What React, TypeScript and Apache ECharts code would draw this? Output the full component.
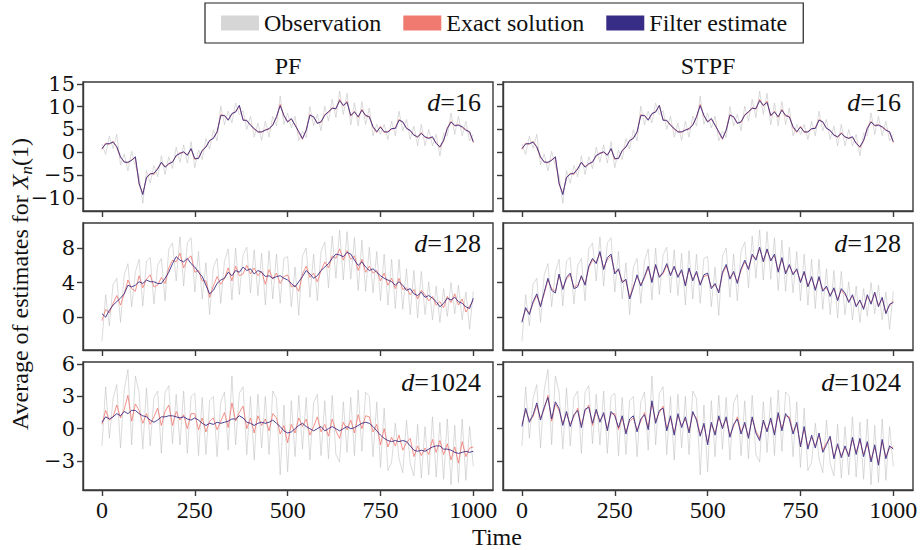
import React, { useEffect, useRef } from "react";
import * as echarts from "echarts";

// time steps (every 10th step of 0..1000)
const times: number[] = Array.from({ length: 101 }, (_, i) => i * 10);
const xTicks = [0, 250, 500, 750, 1000];

// ---- d = 16 ----
const obs16 = [1.8,-0.5,3.5,0.8,3.9,-2.8,-0.4,-4.1,0.2,-3.0,
  -5.2,-11.2,-4.0,-6.8,-2.9,-5.4,-0.8,-4.9,-1.0,-3.6,
  1.1,-2.2,1.6,-2.4,2.3,-3.4,0.5,-1.6,3.0,0.7,
  4.9,2.5,10.1,6.0,9.0,6.4,10.8,8.2,9.1,5.0,
  7.9,3.3,6.4,2.6,6.8,3.3,7.9,5.8,12.3,6.1,
  8.6,5.3,7.9,2.5,4.6,3.2,10.0,5.8,8.3,4.7,
  10.1,6.9,11.6,7.6,13.4,8.3,12.9,6.0,10.8,5.8,
  11.1,6.1,9.7,3.6,6.1,3.9,6.1,2.8,6.8,3.6,
  9.0,4.7,7.2,2.8,5.7,1.4,6.1,1.4,5.0,1.4,
  3.9,-0.8,4.2,3.6,8.6,3.9,7.9,3.6,6.8,2.5,
  3.9];
const exact16 = [0.6,2.0,1.7,2.4,1.0,-1.2,-2.0,-2.4,-1.6,-1.2,
  -7.1,-9.0,-5.7,-4.6,-4.9,-3.5,-2.4,-3.1,-2.7,-2.0,
  -0.9,-0.1,-0.1,-0.5,0.6,-1.6,-1.2,0.2,1.3,2.4,
  3.2,4.3,8.3,7.9,7.2,8.3,9.0,10.1,7.2,6.8,
  6.1,5.0,4.6,4.3,5.0,5.0,6.1,7.6,10.5,7.9,
  6.8,7.2,6.1,4.3,2.8,5.0,8.3,7.6,6.5,6.5,
  8.3,8.7,9.8,9.4,11.6,10.1,11.2,7.9,9.0,7.6,
  9.4,7.9,7.9,5.4,4.3,5.7,4.3,4.6,5.0,5.4,
  7.2,6.5,5.4,4.6,3.9,3.2,4.3,3.2,3.2,3.2,
  2.1,1.0,2.4,5.4,6.8,5.7,6.1,5.4,5.0,4.3,
  2.1];
const pf16 = [0.8,1.8,1.9,2.2,1.2,-1.0,-2.2,-2.2,-1.8,-1.0,
  -6.8,-9.3,-5.5,-4.8,-4.6,-3.7,-2.2,-3.3,-2.5,-2.2,
  -0.7,-0.3,0.1,-0.7,0.8,-1.4,-1.4,0.4,1.1,2.6,
  3.0,4.5,8.0,8.1,7.0,8.5,8.8,10.3,7.0,7.0,
  5.9,5.2,4.4,4.5,4.8,5.2,5.9,7.8,10.2,8.1,
  6.6,7.4,5.9,4.5,3.0,4.8,8.1,7.8,6.3,6.7,
  8.1,8.9,9.6,9.6,11.3,10.3,10.9,8.1,8.8,7.8,
  9.2,8.1,7.7,5.6,4.5,5.5,4.5,4.4,5.2,5.2,
  7.0,6.7,5.2,4.8,3.7,3.4,4.1,3.4,3.0,3.4,
  1.9,1.2,2.6,5.2,6.6,5.9,5.9,5.6,4.8,4.5,
  2.3];
const stpf16 = pf16;

// ---- d = 128 ----
const obs128 = [-2.8,2.6,-1.0,3.8,4.5,-0.6,4.9,6.2,1.2,5.2,
  6.7,1.3,6.5,6.9,1.5,6.0,6.8,1.9,7.9,8.6,
  4.2,9.3,3.6,8.6,9.2,2.9,7.6,2.1,6.3,0.3,
  5.8,6.8,1.6,6.5,7.9,2.0,8.0,2.6,7.2,8.1,
  2.8,7.8,2.5,7.4,1.4,7.7,2.1,7.3,1.6,6.8,
  7.0,1.2,5.8,0.2,7.1,8.0,2.3,7.3,1.9,7.6,
  8.7,3.4,9.4,4.5,10.1,4.3,9.9,4.4,9.2,3.1,
  8.9,3.0,8.1,2.8,7.6,1.9,7.3,1.4,6.7,1.0,
  6.7,0.9,5.6,0.3,5.4,-0.1,5.3,0.3,4.1,-0.3,
  3.6,-0.6,3.3,0.1,4.0,0.4,3.7,-0.3,2.9,-1.4,
  3.0];
const exact128 = [-0.4,0.9,0.5,1.6,2.5,1.4,2.7,4.3,3.3,3.0,
  4.8,3.4,4.4,4.9,3.5,3.7,4.6,3.9,5.7,6.6,
  6.4,7.4,5.7,6.7,7.1,5.2,5.4,4.2,4.2,2.3,
  3.6,4.7,3.8,4.5,5.7,4.2,5.9,4.8,5.0,6.0,
  5.0,5.7,4.8,5.3,3.8,5.5,4.4,5.1,3.9,4.7,
  4.9,3.5,3.7,3.0,5.0,5.9,4.6,5.1,4.1,5.4,
  6.4,5.7,7.1,6.8,7.9,6.6,7.7,6.7,7.1,5.4,
  6.7,5.2,5.9,5.1,5.4,4.2,5.1,3.7,4.5,3.3,
  4.5,3.2,3.4,2.6,3.2,2.1,3.1,2.6,1.9,2.4,
  1.4,1.8,1.1,2.4,1.7,2.7,1.4,2.1,0.6,1.3,
  1.9];
const pf128 = [0.4,0.0,0.8,1.4,1.8,2.2,2.7,3.7,3.5,3.7,
  4.1,3.9,4.3,4.1,4.1,3.9,3.9,4.5,5.2,6.2,
  7.0,6.6,6.4,6.8,6.2,5.8,5.2,4.7,3.7,2.7,
  3.1,3.9,4.3,4.5,5.2,4.8,5.4,5.2,5.8,5.4,
  5.6,5.0,5.4,5.2,4.7,4.8,4.5,4.7,4.8,4.5,
  4.3,3.9,3.5,4.1,4.7,5.4,5.0,4.5,4.8,5.4,
  5.8,6.2,6.8,7.3,7.2,7.0,7.5,7.3,6.6,6.0,
  6.4,5.8,5.4,5.6,5.2,4.8,4.5,4.3,4.1,3.7,
  4.1,3.7,3.1,3.3,2.7,2.5,2.9,2.3,2.5,2.2,
  1.8,1.2,1.6,2.2,2.0,2.3,1.8,1.6,1.2,1.0,
  2.2];
const stpf128 = [-0.6,1.1,0.3,1.8,2.7,1.2,2.9,4.5,3.1,2.8,
  5.0,3.2,4.6,5.1,3.3,3.5,4.8,3.7,5.9,6.8,
  6.2,7.6,5.5,6.9,7.3,5.0,5.6,4.0,4.4,2.1,
  3.4,4.9,3.6,4.7,5.9,4.0,6.1,4.6,5.2,6.2,
  4.8,5.9,4.6,5.5,3.6,5.7,4.2,5.3,3.7,4.9,
  5.1,3.3,3.9,2.8,5.2,6.1,4.4,5.3,3.9,5.6,
  6.6,5.5,7.3,6.6,8.1,6.4,7.9,6.5,7.3,5.2,
  6.9,5.0,6.1,4.9,5.6,4.0,5.3,3.5,4.7,3.1,
  4.7,3.0,3.6,2.4,3.4,1.9,3.3,2.8,1.7,2.6,
  1.2,2.0,0.9,2.6,1.5,2.9,1.2,2.3,0.4,1.5,
  1.7];

// ---- d = 1024 ----
const obs1024 = [-1.6,3.9,-0.9,2.8,4.1,-1.8,3.6,5.5,-1.5,4.9,
  3.4,-1.9,3.8,-1.6,2.9,3.5,-2.3,3.4,4.0,-1.4,
  3.2,-1.5,3.5,-2.3,3.0,3.3,-2.5,2.9,-2.4,2.6,
  3.0,-2.6,2.5,3.4,-2.0,4.9,-1.5,3.3,3.9,-2.4,
  3.0,-2.9,3.2,-1.8,3.0,-2.4,3.5,2.8,-4.3,2.2,
  -4.0,2.6,-2.6,3.1,-1.9,2.9,-2.9,2.4,3.2,-2.5,
  2.6,-2.8,3.1,-2.4,-3.1,2.5,-2.2,2.9,-2.5,3.6,
  -2.1,3.4,3.0,-2.6,2.5,-3.6,1.9,-3.9,-3.1,0.5,
  -2.8,-4.1,0.8,-3.2,-4.4,0.4,-4.6,0.2,-4.3,1.1,
  -4.5,0.6,-4.7,0.9,-5.2,0.3,-5.0,0.9,-4.8,0.2,
  -3.5];
const exact1024 = [0.4,1.7,0.8,1.1,2.2,1.0,1.8,3.1,0.7,2.3,
  1.7,0.5,1.4,0.4,1.1,1.9,0.3,1.6,2.2,0.3,
  1.6,0.8,1.3,0.0,1.4,1.4,-0.1,1.0,-0.3,0.7,
  1.0,-0.1,0.7,1.5,0.1,2.4,0.7,1.5,2.1,0.0,
  1.0,-0.4,1.2,0.3,0.9,-0.2,1.4,1.0,-0.5,0.3,
  -1.3,0.4,-0.4,1.0,0.2,0.9,-0.6,0.2,1.1,-0.3,
  0.4,-0.7,0.9,-0.2,-0.9,0.6,-0.1,0.8,-0.4,1.3,
  0.0,1.2,1.1,-0.3,0.4,-1.5,0.0,-1.7,-0.8,-1.6,
  -0.6,-2.0,-1.3,-0.9,-2.6,-1.6,-2.5,-1.8,-2.4,-1.0,
  -2.2,-1.1,-2.4,-1.4,-2.9,-1.7,-3.2,-1.2,-2.6,-1.8,
  -1.7];
const pf1024 = [0.6,1.1,0.9,1.1,1.4,1.2,1.6,1.4,1.7,1.7,
  1.4,1.2,1.1,0.8,0.6,0.8,1.1,1.1,1.2,1.2,
  1.1,1.0,1.1,0.9,0.8,1.0,0.8,0.5,0.3,0.5,
  0.4,0.6,0.5,0.6,0.7,0.9,0.9,1.2,1.0,0.6,
  0.5,0.3,0.5,0.6,0.5,0.6,0.8,0.5,0.2,-0.2,
  -0.4,-0.3,0.0,0.3,0.5,0.2,0.0,-0.2,0.0,0.2,
  -0.2,0.0,0.2,0.0,-0.2,0.0,0.2,0.0,0.1,0.3,
  0.5,0.6,0.5,0.2,-0.2,-0.6,-0.9,-1.1,-1.2,-1.1,
  -1.2,-1.1,-1.2,-1.6,-2.0,-2.1,-2.0,-2.1,-1.9,-1.7,
  -1.6,-1.6,-1.9,-1.9,-2.0,-2.2,-2.3,-2.2,-2.1,-2.2,
  -2.1];
const stpf1024 = [0.2,1.9,0.6,1.3,2.4,0.8,2.0,2.9,0.9,2.5,
  1.9,0.3,1.6,0.2,1.3,1.7,0.1,1.8,2.0,0.5,
  1.8,0.6,1.5,-0.2,1.6,1.2,0.1,1.2,-0.5,0.9,
  1.2,-0.3,0.9,1.3,-0.1,2.6,0.5,1.7,1.9,-0.2,
  1.2,-0.6,1.4,0.1,1.1,-0.4,1.6,0.8,-0.7,0.5,
  -1.5,0.6,-0.6,1.2,0.0,1.1,-0.8,0.4,0.9,-0.5,
  0.6,-0.9,1.1,-0.4,-1.1,0.8,-0.3,1.0,-0.6,1.5,
  -0.2,1.4,0.9,-0.5,0.6,-1.7,0.2,-1.9,-0.6,-1.8,
  -0.4,-2.2,-1.5,-0.7,-2.8,-1.4,-2.7,-1.6,-2.6,-0.8,
  -2.4,-0.9,-2.6,-1.2,-3.1,-1.5,-3.4,-1.0,-2.8,-1.6,
  -1.9];

const dLabels = ["16", "128", "1024"];
const yTicks16 = [-10, -5, 0, 5, 10, 15];
const yTicks128 = [0, 4, 8];
const yTicks1024 = [-3, 0, 3, 6];
const yRanges: [number, number][] = [[-12.9, 15.4], [-3.8, 10.9], [-5.7, 6.2]];
const methodTitles = ["PF", "STPF"];
const legendNames = ["Observation", "Exact solution", "Filter estimate"];

const COL_OBS = "#d6d6d6";
const COL_EXACT = "#f07a70";
const COL_FILT = "#382d86";
const SERIF = "'Liberation Serif', 'Times New Roman', serif";
const DSERIF = "'DejaVu Serif', serif";

const rowsData = [
  { obs: obs16, exact: exact16, est: [pf16, stpf16], ticks: yTicks16 },
  { obs: obs128, exact: exact128, est: [pf128, stpf128], ticks: yTicks128 },
  { obs: obs1024, exact: exact1024, est: [pf1024, stpf1024], ticks: yTicks1024 },
];

const pairs = (vals: number[]) => vals.map((v, i) => [times[i], v]);

export default function App() {
  const ref = useRef<HTMLDivElement>(null);
  useEffect(() => {
    document.body.style.margin = "0";
    if (!ref.current) return;
    const chart = echarts.init(ref.current, null, { renderer: "svg" });

    const colLeft = [83, 503];
    const colW = 410;
    const rowTop = [82, 223, 362];
    const rowH = [129, 127, 128];

    const grids: any[] = [];
    const xAxes: any[] = [];
    const yAxes: any[] = [];
    const series: any[] = [];
    const graphics: any[] = [];

    rowsData.forEach((row, r) => {
      [0, 1].forEach((c) => {
        const g = grids.length;
        grids.push({
          left: colLeft[c], top: rowTop[r], width: colW, height: rowH[r],
          show: true, borderColor: "#3a3a3a", borderWidth: 1.4, backgroundColor: "transparent",
        });
        xAxes.push({
          type: "value", gridIndex: g, min: -51, max: 1053,
          axisLine: { show: true, onZero: false, lineStyle: { color: "#3a3a3a", width: 1.4 } },
          axisTick: { show: true, customValues: xTicks, length: 6, lineStyle: { color: "#3a3a3a", width: 1.4 } },
          axisLabel: {
            show: r === 2, customValues: xTicks, margin: 8,
            fontFamily: SERIF, fontSize: 24, color: "#111",
            formatter: (v: number) => String(v),
          },
          splitLine: { show: false },
        });
        yAxes.push({
          type: "value", gridIndex: g, min: yRanges[r][0], max: yRanges[r][1],
          axisLine: { show: true, onZero: false, lineStyle: { color: "#3a3a3a", width: 1.4 } },
          axisTick: { show: true, customValues: row.ticks, length: 6, lineStyle: { color: "#3a3a3a", width: 1.4 } },
          axisLabel: {
            show: c === 0, customValues: row.ticks, margin: 8,
            fontFamily: DSERIF, fontSize: 21, color: "#111",
            formatter: (v: number) => String(v).replace("-", "\u2212"),
          },
          splitLine: { show: false },
        });
        series.push({
          type: "line", name: legendNames[0], xAxisIndex: g, yAxisIndex: g,
          data: pairs(row.obs), symbol: "none", silent: true, z: 1,
          itemStyle: { color: COL_OBS },
          lineStyle: { color: "rgba(190,190,190,0.55)", width: 1 },
        });
        series.push({
          type: "line", name: legendNames[1], xAxisIndex: g, yAxisIndex: g,
          data: pairs(row.exact), symbol: "none", silent: true, z: 2,
          itemStyle: { color: COL_EXACT },
          lineStyle: { color: "rgba(240,110,100,0.75)", width: 1 },
        });
        series.push({
          type: "line", name: legendNames[2], xAxisIndex: g, yAxisIndex: g,
          data: pairs(row.est[c]), symbol: "none", silent: true, z: 3,
          itemStyle: { color: COL_FILT },
          lineStyle: { color: "rgba(56,45,134,0.9)", width: 1 },
        });
        graphics.push({
          type: "text", x: colLeft[c] + colW - 12, y: rowTop[r] + 20,
          style: {
            text: "{i|d}{n|=" + dLabels[r] + "}",
            align: "right", verticalAlign: "middle",
            rich: {
              i: { fontFamily: SERIF, fontStyle: "italic", fontSize: 26, fill: "#111" },
              n: { fontFamily: SERIF, fontSize: 26, fill: "#111" },
            },
          },
        });
      });
    });

    methodTitles.forEach((t, c) => {
      graphics.push({
        type: "text", x: colLeft[c] + colW / 2, y: 66,
        style: { text: t, align: "center", verticalAlign: "middle", fontFamily: SERIF, fontSize: 24, fill: "#111" },
      });
    });
    graphics.push({
      type: "text", x: 497, y: 537,
      style: { text: "Time", align: "center", verticalAlign: "middle", fontFamily: SERIF, fontSize: 24, fill: "#111" },
    });
    graphics.push({
      type: "text", x: 20, y: 284, rotation: Math.PI / 2,
      style: {
        text: "{a|Average of estimates for }{x|X}{s|n}{a|(1)}",
        align: "center", verticalAlign: "middle",
        rich: {
          a: { fontFamily: SERIF, fontSize: 24, fill: "#111", lineHeight: 30 },
          x: { fontFamily: SERIF, fontStyle: "italic", fontSize: 24, fill: "#111", lineHeight: 30 },
          s: { fontFamily: SERIF, fontStyle: "italic", fontSize: 17, fill: "#111", lineHeight: 30, padding: [12, 0, 0, 0] },
        },
      },
    });

    chart.setOption({
      animation: false,
      backgroundColor: "#fff",
      legend: {
        left: 205, top: 3,
        padding: [8, 16],
        itemGap: 22, itemWidth: 38, itemHeight: 15,
        borderColor: "#222", borderWidth: 1.2,
        icon: "rect",
        selectedMode: false,
        textStyle: { fontFamily: SERIF, fontSize: 24, color: "#111", padding: [0, 0, 0, 0] },
        data: [
          { name: legendNames[0], itemStyle: { color: COL_OBS } },
          { name: legendNames[1], itemStyle: { color: COL_EXACT } },
          { name: legendNames[2], itemStyle: { color: COL_FILT } },
        ],
      },
      grid: grids,
      xAxis: xAxes,
      yAxis: yAxes,
      series,
      graphic: graphics,
    });
    return () => chart.dispose();
  }, []);
  return <div ref={ref} style={{ width: 921, height: 550 }} />;
}
